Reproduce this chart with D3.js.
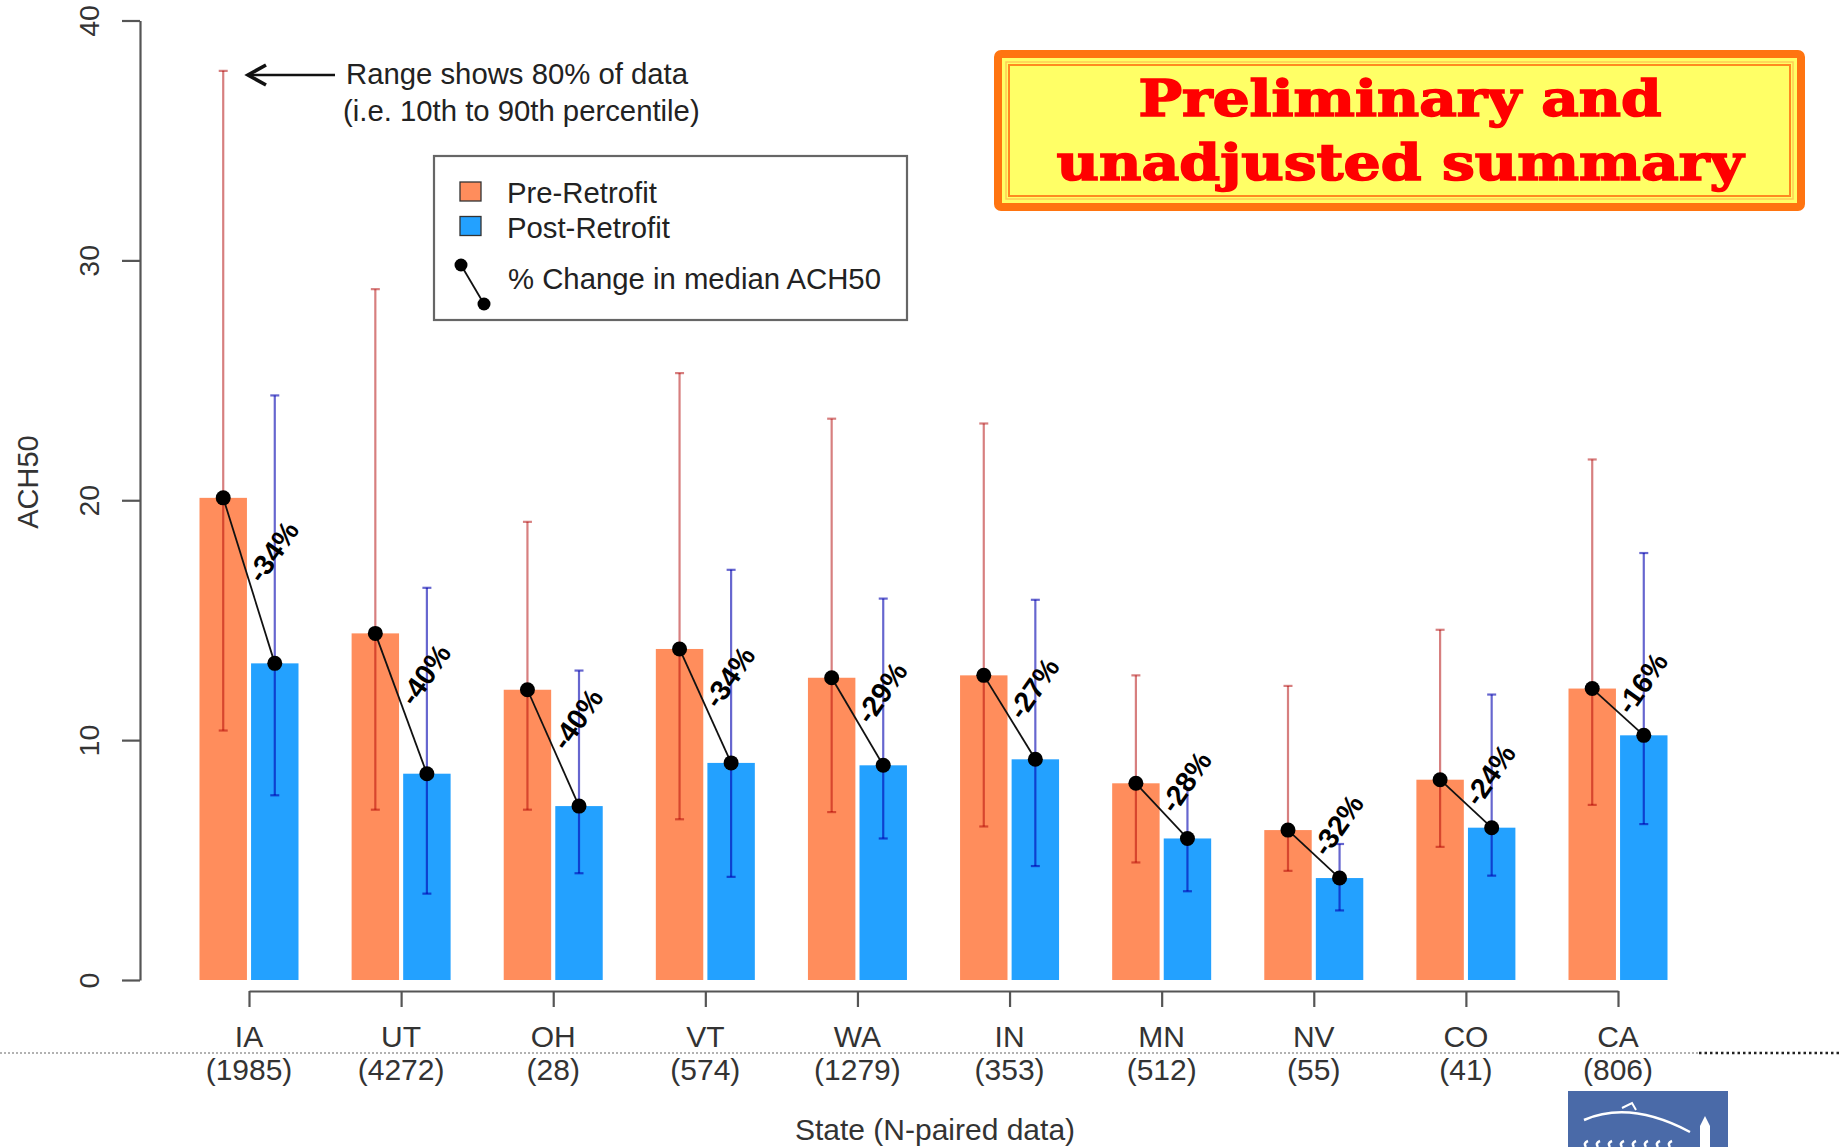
<!DOCTYPE html>
<html>
<head>
<meta charset="utf-8">
<script src="https://cdn.jsdelivr.net/npm/d3@7"></script>
<style>
  body { margin: 0; background: #fff; }
  svg { display: block; font-family: "Liberation Sans", Arial, sans-serif; }
</style>
</head>
<body>
<div id="wrapper"></div>
<script>
// values
const states = ["IA", "UT", "OH", "VT", "WA", "IN", "MN", "NV", "CO", "CA"]
const nPaired = [1985, 4272, 28, 574, 1279, 353, 512, 55, 41, 806]
const preMedian = [20.1, 14.45, 12.1, 13.8, 12.6, 12.7, 8.2, 6.25, 8.35, 12.15]
const preP10 = [10.4, 7.1, 7.1, 6.7, 7.0, 6.4, 4.9, 4.55, 5.55, 7.3]
const preP90 = [37.9, 28.8, 19.1, 25.3, 23.4, 23.2, 12.7, 12.26, 14.6, 21.7]
const postMedian = [13.2, 8.6, 7.25, 9.05, 8.95, 9.2, 5.9, 4.25, 6.35, 10.2]
const postP10 = [7.7, 3.6, 4.45, 4.3, 5.9, 4.75, 3.7, 2.9, 4.35, 6.5]
const postP90 = [24.37, 16.35, 12.9, 17.1, 15.9, 15.85, 8.0, 5.67, 11.9, 17.8]
const pctChange = [-34, -40, -40, -34, -29, -27, -28, -32, -24, -16]
const yTicks = [0, 10, 20, 30, 40]

const series = [
    {key: "pre", label: "Pre-Retrofit", color: "#ff8d5c", whisker: "rgba(175,0,0,0.5)", med: preMedian, lo: preP10, hi: preP90},
    {key: "post", label: "Post-Retrofit", color: "#23a1ff", whisker: "rgba(0,0,175,0.6)", med: postMedian, lo: postP10, hi: postP90}
]

const width = 1839
const height = 1147

const svg = d3.select("#wrapper")
    .append("svg")
    .attr("width", width)
    .attr("height", height)

svg.append("rect").attr("width", width).attr("height", height).attr("fill", "#fff")

// scales
const xScale = d3.scalePoint()
    .domain(states)
    .range([249, 1618])

const inner = d3.scaleBand()
    .domain(series.map(s => s.key))
    .range([-49.5, 49.5])
    .paddingInner(0.08)

const yScale = d3.scaleLinear()
    .domain([0, 40])
    .range([980, 20.5])

// bars
series.forEach(s => {
    svg.append("g").selectAll("rect")
        .data(states)
        .join("rect")
        .attr("x", d => xScale(d) + inner(s.key))
        .attr("width", inner.bandwidth())
        .attr("y", (d, i) => yScale(s.med[i]))
        .attr("height", (d, i) => yScale(0) - yScale(s.med[i]))
        .attr("fill", s.color)
})

// whiskers (10th to 90th percentile)
series.forEach(s => {
    const g = svg.append("g")
        .attr("stroke", s.whisker)
        .attr("stroke-width", 2.2)
    const cx = d => xScale(d) + inner(s.key) + inner.bandwidth() / 2
    g.selectAll("line.v")
        .data(states)
        .join("line")
        .attr("class", "v")
        .attr("x1", cx).attr("x2", cx)
        .attr("y1", (d, i) => yScale(s.lo[i]))
        .attr("y2", (d, i) => yScale(s.hi[i]))
    ;["lo", "hi"].forEach(k => {
        g.selectAll("line." + k)
            .data(states)
            .join("line")
            .attr("class", k)
            .attr("x1", d => cx(d) - 4.5).attr("x2", d => cx(d) + 4.5)
            .attr("y1", (d, i) => yScale(s[k][i]))
            .attr("y2", (d, i) => yScale(s[k][i]))
    })
})

// median change segments + dots
const preX = d => xScale(d) + inner("pre") + inner.bandwidth() / 2
const postX = d => xScale(d) + inner("post") + inner.bandwidth() / 2

svg.append("g").selectAll("line")
    .data(states)
    .join("line")
    .attr("x1", preX)
    .attr("y1", (d, i) => yScale(preMedian[i]))
    .attr("x2", postX)
    .attr("y2", (d, i) => yScale(postMedian[i]))
    .attr("stroke", "#111")
    .attr("stroke-width", 1.8)

series.forEach(s => {
    const cx = d => xScale(d) + inner(s.key) + inner.bandwidth() / 2
    svg.append("g").selectAll("circle")
        .data(states)
        .join("circle")
        .attr("cx", cx)
        .attr("cy", (d, i) => yScale(s.med[i]))
        .attr("r", 7.5)
        .attr("fill", "#000")
})

svg.append("g").selectAll("text")
    .data(states)
    .join("text")
    .attr("transform", (d, i) => {
        const mx = (preX(d) + postX(d)) / 2 + 24
        const my = (yScale(preMedian[i]) + yScale(postMedian[i])) / 2 - 29
        return `translate(${mx},${my}) rotate(-55)`
    })
    .attr("text-anchor", "middle")
    .attr("dy", "0.35em")
    .attr("font-size", 28.5)
    .attr("font-weight", "bold")
    .attr("fill", "#000")
    .text((d, i) => pctChange[i] + "%")

// y axis
const yAxis = svg.append("g")
    .attr("transform", "translate(140,0)")
    .call(d3.axisLeft(yScale).tickValues(yTicks).tickSize(18).tickSizeOuter(0))
yAxis.select(".domain").attr("stroke", "#555").attr("stroke-width", 2.2)
yAxis.selectAll(".tick line").attr("stroke", "#555").attr("stroke-width", 2.2)
yAxis.selectAll(".tick text")
    .attr("transform", "rotate(-90)")
    .attr("x", 0)
    .attr("y", -41)
    .attr("dy", 0)
    .attr("text-anchor", "middle")
    .attr("font-size", 28.5)
    .attr("font-family", "Liberation Sans, Arial, sans-serif")
    .attr("fill", "#333")

svg.append("text")
    .attr("transform", "translate(38,482) rotate(-90)")
    .attr("text-anchor", "middle")
    .attr("font-size", 29)
    .attr("fill", "#333")
    .text("ACH50")

// x axis
const xAxis = svg.append("g")
    .attr("transform", "translate(0,991)")
    .call(d3.axisBottom(xScale).tickSize(16).tickSizeOuter(0))
xAxis.select(".domain").attr("stroke", "#555").attr("stroke-width", 2.2)
xAxis.selectAll(".tick line").attr("stroke", "#555").attr("stroke-width", 2.2)
xAxis.selectAll(".tick text").remove()

svg.append("g").selectAll("text")
    .data(states)
    .join("text")
    .attr("x", xScale)
    .attr("y", 1047)
    .attr("text-anchor", "middle")
    .attr("font-size", 30)
    .attr("fill", "#333")
    .text(d => d)

svg.append("g").selectAll("text")
    .data(states)
    .join("text")
    .attr("x", xScale)
    .attr("y", 1080)
    .attr("text-anchor", "middle")
    .attr("font-size", 30)
    .attr("fill", "#333")
    .text((d, i) => `(${nPaired[i]})`)

svg.append("text")
    .attr("x", 935)
    .attr("y", 1140)
    .attr("text-anchor", "middle")
    .attr("font-size", 30)
    .attr("fill", "#333")
    .text("State (N-paired data)")

// dotted separator from the slide
svg.append("line")
    .attr("x1", 0).attr("x2", 1699).attr("y1", 1053).attr("y2", 1053)
    .attr("stroke", "#999").attr("stroke-width", 1.3).attr("stroke-dasharray", "2,2")
svg.append("line")
    .attr("x1", 1699).attr("x2", width).attr("y1", 1053).attr("y2", 1053)
    .attr("stroke", "#222").attr("stroke-width", 2.5).attr("stroke-dasharray", "2.5,3")

// range annotation
const ann = svg.append("g").attr("fill", "#222").attr("font-size", 29.3)
ann.append("line")
    .attr("x1", 335).attr("x2", 250).attr("y1", 75).attr("y2", 75)
    .attr("stroke", "#111").attr("stroke-width", 2.6)
ann.append("path")
    .attr("d", "M266,65 L248,75 L266,85")
    .attr("fill", "none").attr("stroke", "#111").attr("stroke-width", 3.6)
ann.append("text").attr("x", 346).attr("y", 84).text("Range shows 80% of data")
ann.append("text").attr("x", 343).attr("y", 121).text("(i.e. 10th to 90th percentile)")

// legend
const legend = svg.append("g")
legend.append("rect")
    .attr("x", 434).attr("y", 156).attr("width", 473).attr("height", 164)
    .attr("fill", "#fff").attr("stroke", "#666").attr("stroke-width", 2.2)
series.forEach((s, i) => {
    legend.append("rect")
        .attr("x", 460).attr("y", 182 + i * 34.5).attr("width", 21).attr("height", 19)
        .attr("fill", s.color).attr("stroke", "#333").attr("stroke-width", 1.3)
    legend.append("text")
        .attr("x", 507).attr("y", 203 + i * 34.5)
        .attr("font-size", 29.3).attr("fill", "#222")
        .text(s.label)
})
legend.append("line")
    .attr("x1", 461).attr("y1", 265).attr("x2", 484).attr("y2", 304)
    .attr("stroke", "#111").attr("stroke-width", 1.8)
legend.selectAll("circle.k")
    .data([[461, 265], [484, 304]])
    .join("circle")
    .attr("cx", d => d[0]).attr("cy", d => d[1]).attr("r", 6.5).attr("fill", "#000")
legend.append("text")
    .attr("x", 508).attr("y", 289)
    .attr("font-size", 29.3).attr("fill", "#222")
    .text("% Change in median ACH50")

// "Preliminary" stamp
const stamp = svg.append("g")
stamp.append("rect")
    .attr("x", 998).attr("y", 54).attr("width", 803).attr("height", 153).attr("rx", 3)
    .attr("fill", "#ffff66").attr("stroke", "#ff7410").attr("stroke-width", 8)
stamp.append("rect")
    .attr("x", 1006).attr("y", 62).attr("width", 787).attr("height", 137)
    .attr("fill", "none").attr("stroke", "#ffcc55").attr("stroke-width", 1.5)
stamp.append("rect")
    .attr("x", 1009).attr("y", 65).attr("width", 781).attr("height", 131)
    .attr("fill", "none").attr("stroke", "#ff8a20").attr("stroke-width", 2)
;[["Preliminary and", 116, 523], ["unadjusted summary", 180, 687]].forEach(([t, y, len]) => {
    stamp.append("text")
        .attr("x", 1400).attr("y", y)
        .attr("text-anchor", "middle")
        .attr("font-family", "DejaVu Serif, serif")
        .attr("font-weight", "bold")
        .attr("font-size", 50)
        .attr("fill", "#ff0000")
        .attr("stroke", "#ff0000")
        .attr("stroke-width", 1.6)
        .attr("textLength", len).attr("lengthAdjust", "spacingAndGlyphs")
        .text(t)
})

// logo corner
const logo = svg.append("g")
logo.append("rect").attr("x", 1568).attr("y", 1091).attr("width", 160).attr("height", 56).attr("fill", "#4a6aa8")
logo.append("path")
    .attr("d", "M1584,1120 Q1630,1100 1690,1132")
    .attr("fill", "none").attr("stroke", "#fff").attr("stroke-width", 2.5)
logo.append("path")
    .attr("d", "M1622,1108 L1632,1103 L1636,1110")
    .attr("fill", "none").attr("stroke", "#fff").attr("stroke-width", 2)
logo.append("path")
    .attr("d", d3.range(8).map(i => `M${1586 + i * 12},1147 q-3,-4 2,-6`).join(" "))
    .attr("fill", "none").attr("stroke", "#fff").attr("stroke-width", 2.5)
logo.append("path")
    .attr("d", "M1700,1147 L1700,1126 L1705,1116 L1710,1126 L1710,1147 Z")
    .attr("fill", "#fff")
</script>
</body>
</html>
